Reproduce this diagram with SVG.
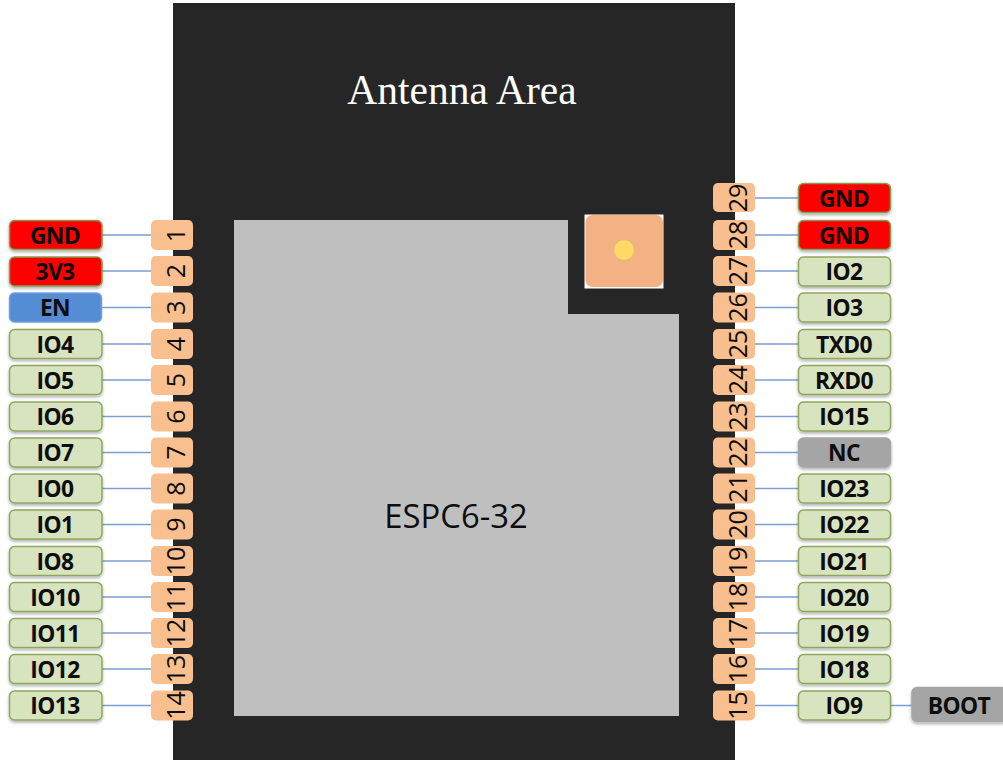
<svg xmlns="http://www.w3.org/2000/svg" width="1003" height="760" viewBox="0 0 1003 760">
<style>
.w{stroke:#7c9fd0;stroke-width:1.3;fill:none}
.l{font:bold 22.800px "Open Sans",sans-serif;text-anchor:middle;dominant-baseline:central;fill:#0d0d0d;letter-spacing:-.6px}
.b{filter:url(#s);stroke-width:1.5}
.g{fill:#d8e3bf;stroke:#8ea75d}
.r{fill:#ff0000;stroke:#84a04f}
.e{fill:#548dd4;stroke:#6f9fdb}
.n{fill:#a5a5a5;stroke:#a5a5a5}
.p{fill:#fabf8f}
.t{font:25px "Open Sans",sans-serif;text-anchor:middle;dominant-baseline:central;fill:#0d0d0d}
</style>
<defs>
<filter id="s" x="-10%" y="-20%" width="120%" height="150%"><feDropShadow dx="0" dy="2" stdDeviation="1.5" flood-color="#000" flood-opacity=".3"/></filter>
</defs>
<rect width="1003" height="760" fill="#fff"/>
<g id="chip">
<rect x="173" y="3" width="562" height="757" fill="#262626"/>
<polygon points="234,220 568,220 568,314 679,314 679,716 234,716" fill="#bfbfbf"/>
<text x="462" y="104" font-family="Liberation Serif,serif" font-size="41.500" fill="#fff" text-anchor="middle">Antenna Area</text>
<text x="456" y="515" font-family="Open Sans,sans-serif" font-size="32.800" fill="#0d0d0d" text-anchor="middle" dominant-baseline="central">ESPC6-32</text>
</g>
<g id="antenna">
<rect x="584.500" y="214.500" width="79" height="74" fill="#fff"/>
<rect x="585.500" y="215" width="77.500" height="72" rx="7" fill="#f4b183"/>
<circle cx="624" cy="250" r="10.500" fill="#ffd966" stroke="#e2b877" stroke-width="1"/>
</g>
<g id="connectors">
<path class="w" d="M102 235H151M102 271H151M102 307.500H151M102 344H151M102 380H151M102 416.500H151M102 452.500H151M102 488.500H151M102 524.500H151M102 561H151M102 597H151M102 633H151M102 669H151M102 705.500H151"/>
<path class="w" d="M755 198H798M755 235H798M755 271H798M755 307.500H798M755 344H798M755 380H798M755 416.500H798M755 452.500H798M755 488.500H798M755 524.500H798M755 561H798M755 597H798M755 633H798M755 669H798M755 705.500H798M891 705.500H912"/>
</g>
<g id="n-gnd-l"><rect class="b r" x="9.500" y="220.500" width="92.500" height="29" rx="5"/><text class="l" x="55" y="235">GND</text></g>
<g id="n-3v3"><rect class="b r" x="9.500" y="257" width="92.500" height="29" rx="5"/><text class="l" x="55" y="271">3V3</text></g>
<g id="n-en"><rect class="b e" x="9.500" y="293" width="92" height="29" rx="5" style="filter:none"/><text class="l" x="55" y="307.500">EN</text></g>
<g id="n-io4"><rect class="b g" x="9.500" y="329.500" width="92.500" height="29" rx="5"/><text class="l" x="55" y="344">IO4</text></g>
<g id="n-io5"><rect class="b g" x="9.500" y="365.500" width="92.500" height="29" rx="5"/><text class="l" x="55" y="380">IO5</text></g>
<g id="n-io6"><rect class="b g" x="9.500" y="402" width="92.500" height="29" rx="5"/><text class="l" x="55" y="416.500">IO6</text></g>
<g id="n-io7"><rect class="b g" x="9.500" y="438" width="92.500" height="29" rx="5"/><text class="l" x="55" y="452.500">IO7</text></g>
<g id="n-io0"><rect class="b g" x="9.500" y="474" width="92.500" height="29" rx="5"/><text class="l" x="55" y="488.500">IO0</text></g>
<g id="n-io1"><rect class="b g" x="9.500" y="510" width="92.500" height="29" rx="5"/><text class="l" x="55" y="524.500">IO1</text></g>
<g id="n-io8"><rect class="b g" x="9.500" y="546.500" width="92.500" height="29" rx="5"/><text class="l" x="55" y="561">IO8</text></g>
<g id="n-io10"><rect class="b g" x="9.500" y="582.500" width="92.500" height="29" rx="5"/><text class="l" x="55" y="597">IO10</text></g>
<g id="n-io11"><rect class="b g" x="9.500" y="618.500" width="92.500" height="29" rx="5"/><text class="l" x="55" y="633">IO11</text></g>
<g id="n-io12"><rect class="b g" x="9.500" y="654.500" width="92.500" height="29" rx="5"/><text class="l" x="55" y="669">IO12</text></g>
<g id="n-io13"><rect class="b g" x="9.500" y="691" width="92.500" height="29" rx="5"/><text class="l" x="55" y="705.500">IO13</text></g>
<g id="p1"><rect class="p" x="151" y="220" width="42" height="30" rx="5"/><text class="t" transform="translate(175 235) rotate(-90)">1</text></g>
<g id="p2"><rect class="p" x="151" y="256" width="42" height="30" rx="5"/><text class="t" transform="translate(175 271) rotate(-90)">2</text></g>
<g id="p3"><rect class="p" x="151" y="292.500" width="42" height="30" rx="5"/><text class="t" transform="translate(175 307.500) rotate(-90)">3</text></g>
<g id="p4"><rect class="p" x="151" y="329" width="42" height="30" rx="5"/><text class="t" transform="translate(175 344) rotate(-90)">4</text></g>
<g id="p5"><rect class="p" x="151" y="365" width="42" height="30" rx="5"/><text class="t" transform="translate(175 380) rotate(-90)">5</text></g>
<g id="p6"><rect class="p" x="151" y="401.500" width="42" height="30" rx="5"/><text class="t" transform="translate(175 416.500) rotate(-90)">6</text></g>
<g id="p7"><rect class="p" x="151" y="437.500" width="42" height="30" rx="5"/><text class="t" transform="translate(175 452.500) rotate(-90)">7</text></g>
<g id="p8"><rect class="p" x="151" y="473.500" width="42" height="30" rx="5"/><text class="t" transform="translate(175 488.500) rotate(-90)">8</text></g>
<g id="p9"><rect class="p" x="151" y="509.500" width="42" height="30" rx="5"/><text class="t" transform="translate(175 524.500) rotate(-90)">9</text></g>
<g id="p10"><rect class="p" x="151" y="546" width="42" height="30" rx="5"/><text class="t" transform="translate(175 561) rotate(-90)">10</text></g>
<g id="p11"><rect class="p" x="151" y="582" width="42" height="30" rx="5"/><text class="t" transform="translate(175 597) rotate(-90)">11</text></g>
<g id="p12"><rect class="p" x="151" y="618" width="42" height="30" rx="5"/><text class="t" transform="translate(175 633) rotate(-90)">12</text></g>
<g id="p13"><rect class="p" x="151" y="654" width="42" height="30" rx="5"/><text class="t" transform="translate(175 669) rotate(-90)">13</text></g>
<g id="p14"><rect class="p" x="151" y="690.500" width="42" height="30" rx="5"/><text class="t" transform="translate(175 705.500) rotate(-90)">14</text></g>
<g id="p15"><rect class="p" x="713" y="690.500" width="42" height="30" rx="5"/><text class="t" transform="translate(737 705.500) rotate(-90)">15</text></g>
<g id="p16"><rect class="p" x="713" y="654" width="42" height="30" rx="5"/><text class="t" transform="translate(737 669) rotate(-90)">16</text></g>
<g id="p17"><rect class="p" x="713" y="618" width="42" height="30" rx="5"/><text class="t" transform="translate(737 633) rotate(-90)">17</text></g>
<g id="p18"><rect class="p" x="713" y="582" width="42" height="30" rx="5"/><text class="t" transform="translate(737 597) rotate(-90)">18</text></g>
<g id="p19"><rect class="p" x="713" y="546" width="42" height="30" rx="5"/><text class="t" transform="translate(737 561) rotate(-90)">19</text></g>
<g id="p20"><rect class="p" x="713" y="509.500" width="42" height="30" rx="5"/><text class="t" transform="translate(737 524.500) rotate(-90)">20</text></g>
<g id="p21"><rect class="p" x="713" y="473.500" width="42" height="30" rx="5"/><text class="t" transform="translate(737 488.500) rotate(-90)">21</text></g>
<g id="p22"><rect class="p" x="713" y="437.500" width="42" height="30" rx="5"/><text class="t" transform="translate(737 452.500) rotate(-90)">22</text></g>
<g id="p23"><rect class="p" x="713" y="401.500" width="42" height="30" rx="5"/><text class="t" transform="translate(737 416.500) rotate(-90)">23</text></g>
<g id="p24"><rect class="p" x="713" y="365" width="42" height="30" rx="5"/><text class="t" transform="translate(737 380) rotate(-90)">24</text></g>
<g id="p25"><rect class="p" x="713" y="329" width="42" height="30" rx="5"/><text class="t" transform="translate(737 344) rotate(-90)">25</text></g>
<g id="p26"><rect class="p" x="713" y="292.500" width="42" height="30" rx="5"/><text class="t" transform="translate(737 307.500) rotate(-90)">26</text></g>
<g id="p27"><rect class="p" x="713" y="256" width="42" height="30" rx="5"/><text class="t" transform="translate(737 271) rotate(-90)">27</text></g>
<g id="p28"><rect class="p" x="713" y="220" width="42" height="30" rx="5"/><text class="t" transform="translate(737 235) rotate(-90)">28</text></g>
<g id="p29"><rect class="p" x="713" y="183" width="42" height="29" rx="5"/><text class="t" transform="translate(737 198) rotate(-90)">29</text></g>
<g id="n-gnd-r1"><rect class="b r" x="798.500" y="183.500" width="92" height="29" rx="5"/><text class="l" x="844" y="198">GND</text></g>
<g id="n-gnd-r2"><rect class="b r" x="798.500" y="220.500" width="92" height="29" rx="5"/><text class="l" x="844" y="235">GND</text></g>
<g id="n-io2"><rect class="b g" x="798.500" y="257" width="92" height="29" rx="5"/><text class="l" x="844" y="271">IO2</text></g>
<g id="n-io3"><rect class="b g" x="798.500" y="293" width="92" height="29" rx="5"/><text class="l" x="844" y="307.500">IO3</text></g>
<g id="n-txd0"><rect class="b g" x="798.500" y="329.500" width="92" height="29" rx="5"/><text class="l" x="844" y="344">TXD0</text></g>
<g id="n-rxd0"><rect class="b g" x="798.500" y="365.500" width="92" height="29" rx="5"/><text class="l" x="844" y="380">RXD0</text></g>
<g id="n-io15"><rect class="b g" x="798.500" y="402" width="92" height="29" rx="5"/><text class="l" x="844" y="416.500">IO15</text></g>
<g id="n-nc"><rect class="b n" x="798.500" y="438" width="92" height="29" rx="5"/><text class="l" x="844" y="452.500">NC</text></g>
<g id="n-io23"><rect class="b g" x="798.500" y="474" width="92" height="29" rx="5"/><text class="l" x="844" y="488.500">IO23</text></g>
<g id="n-io22"><rect class="b g" x="798.500" y="510" width="92" height="29" rx="5"/><text class="l" x="844" y="524.500">IO22</text></g>
<g id="n-io21"><rect class="b g" x="798.500" y="546.500" width="92" height="29" rx="5"/><text class="l" x="844" y="561">IO21</text></g>
<g id="n-io20"><rect class="b g" x="798.500" y="582.500" width="92" height="29" rx="5"/><text class="l" x="844" y="597">IO20</text></g>
<g id="n-io19"><rect class="b g" x="798.500" y="618.500" width="92" height="29" rx="5"/><text class="l" x="844" y="633">IO19</text></g>
<g id="n-io18"><rect class="b g" x="798.500" y="654.500" width="92" height="29" rx="5"/><text class="l" x="844" y="669">IO18</text></g>
<g id="n-io9"><rect class="b g" x="798.500" y="691" width="92" height="29" rx="5"/><text class="l" x="844" y="705.500">IO9</text></g>
<g id="n-boot"><rect class="b n" x="912" y="687.500" width="95" height="34" rx="5"/><text class="l" x="959" y="705.500">BOOT</text></g>
</svg>
